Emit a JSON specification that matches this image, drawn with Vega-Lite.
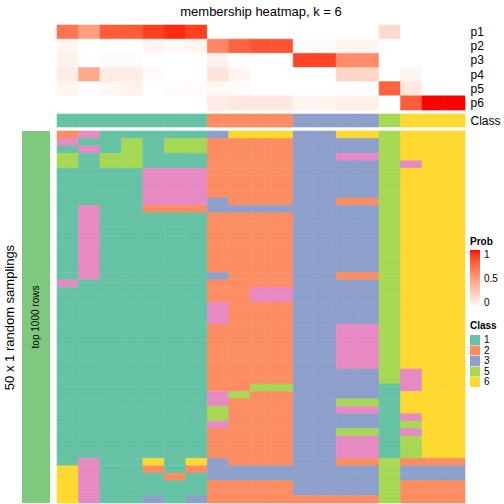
{
"$schema": "https://vega.github.io/schema/vega-lite/v6.json",
"padding": {"left": 3, "top": 5, "right": 0, "bottom": 0},
"config": {"font": "Liberation Sans", "view": {"stroke": null}, "axis": {"labelColor": "black", "titleColor": "black"}, "legend": {"labelColor": "black", "titleColor": "black"}},
"datasets": {
"side": [{"g": "top 1000 rows"}],
"cls": [{"c":0,"k":1,"lab":"Class"},{"c":1,"k":1,"lab":"Class"},{"c":2,"k":1,"lab":"Class"},{"c":3,"k":1,"lab":"Class"},{"c":4,"k":1,"lab":"Class"},{"c":5,"k":1,"lab":"Class"},{"c":6,"k":1,"lab":"Class"},{"c":7,"k":2,"lab":"Class"},{"c":8,"k":2,"lab":"Class"},{"c":9,"k":2,"lab":"Class"},{"c":10,"k":2,"lab":"Class"},{"c":11,"k":3,"lab":"Class"},{"c":12,"k":3,"lab":"Class"},{"c":13,"k":3,"lab":"Class"},{"c":14,"k":3,"lab":"Class"},{"c":15,"k":5,"lab":"Class"},{"c":16,"k":6,"lab":"Class"},{"c":17,"k":6,"lab":"Class"},{"c":18,"k":6,"lab":"Class"}],
"probs": [
{"c":0,"p":"p1","v":0.7},{"c":1,"p":"p1","v":0.5},{"c":2,"p":"p1","v":0.8},{"c":3,"p":"p1","v":0.8},{"c":4,"p":"p1","v":0.9},{"c":5,"p":"p1","v":0.95},{"c":6,"p":"p1","v":0.9},{"c":7,"p":"p1","v":0},{"c":8,"p":"p1","v":0},{"c":9,"p":"p1","v":0},{"c":10,"p":"p1","v":0},{"c":11,"p":"p1","v":0},{"c":12,"p":"p1","v":0},{"c":13,"p":"p1","v":0},{"c":14,"p":"p1","v":0},{"c":15,"p":"p1","v":0.2},{"c":16,"p":"p1","v":0},{"c":17,"p":"p1","v":0},{"c":18,"p":"p1","v":0},
{"c":0,"p":"p2","v":0.05},{"c":1,"p":"p2","v":0},{"c":2,"p":"p2","v":0},{"c":3,"p":"p2","v":0},{"c":4,"p":"p2","v":0.05},{"c":5,"p":"p2","v":0.02},{"c":6,"p":"p2","v":0.05},{"c":7,"p":"p2","v":0.62},{"c":8,"p":"p2","v":0.78},{"c":9,"p":"p2","v":0.83},{"c":10,"p":"p2","v":0.83},{"c":11,"p":"p2","v":0.02},{"c":12,"p":"p2","v":0.02},{"c":13,"p":"p2","v":0.05},{"c":14,"p":"p2","v":0.05},{"c":15,"p":"p2","v":0},{"c":16,"p":"p2","v":0},{"c":17,"p":"p2","v":0},{"c":18,"p":"p2","v":0},
{"c":0,"p":"p3","v":0.07},{"c":1,"p":"p3","v":0},{"c":2,"p":"p3","v":0.02},{"c":3,"p":"p3","v":0.02},{"c":4,"p":"p3","v":0},{"c":5,"p":"p3","v":0},{"c":6,"p":"p3","v":0},{"c":7,"p":"p3","v":0.07},{"c":8,"p":"p3","v":0},{"c":9,"p":"p3","v":0},{"c":10,"p":"p3","v":0},{"c":11,"p":"p3","v":0.88},{"c":12,"p":"p3","v":0.88},{"c":13,"p":"p3","v":0.6},{"c":14,"p":"p3","v":0.6},{"c":15,"p":"p3","v":0},{"c":16,"p":"p3","v":0},{"c":17,"p":"p3","v":0},{"c":18,"p":"p3","v":0},
{"c":0,"p":"p4","v":0.1},{"c":1,"p":"p4","v":0.45},{"c":2,"p":"p4","v":0.1},{"c":3,"p":"p4","v":0.1},{"c":4,"p":"p4","v":0.02},{"c":5,"p":"p4","v":0},{"c":6,"p":"p4","v":0},{"c":7,"p":"p4","v":0.15},{"c":8,"p":"p4","v":0.05},{"c":9,"p":"p4","v":0},{"c":10,"p":"p4","v":0},{"c":11,"p":"p4","v":0},{"c":12,"p":"p4","v":0},{"c":13,"p":"p4","v":0.22},{"c":14,"p":"p4","v":0.22},{"c":15,"p":"p4","v":0},{"c":16,"p":"p4","v":0.05},{"c":17,"p":"p4","v":0},{"c":18,"p":"p4","v":0},
{"c":0,"p":"p5","v":0.05},{"c":1,"p":"p5","v":0},{"c":2,"p":"p5","v":0.04},{"c":3,"p":"p5","v":0.07},{"c":4,"p":"p5","v":0},{"c":5,"p":"p5","v":0.02},{"c":6,"p":"p5","v":0.02},{"c":7,"p":"p5","v":0.04},{"c":8,"p":"p5","v":0.02},{"c":9,"p":"p5","v":0},{"c":10,"p":"p5","v":0},{"c":11,"p":"p5","v":0},{"c":12,"p":"p5","v":0},{"c":13,"p":"p5","v":0},{"c":14,"p":"p5","v":0},{"c":15,"p":"p5","v":0.78},{"c":16,"p":"p5","v":0.12},{"c":17,"p":"p5","v":0},{"c":18,"p":"p5","v":0},
{"c":0,"p":"p6","v":0},{"c":1,"p":"p6","v":0},{"c":2,"p":"p6","v":0},{"c":3,"p":"p6","v":0},{"c":4,"p":"p6","v":0},{"c":5,"p":"p6","v":0},{"c":6,"p":"p6","v":0},{"c":7,"p":"p6","v":0.1},{"c":8,"p":"p6","v":0.12},{"c":9,"p":"p6","v":0.12},{"c":10,"p":"p6","v":0.12},{"c":11,"p":"p6","v":0.05},{"c":12,"p":"p6","v":0.05},{"c":13,"p":"p6","v":0.08},{"c":14,"p":"p6","v":0.08},{"c":15,"p":"p6","v":0},{"c":16,"p":"p6","v":0.8},{"c":17,"p":"p6","v":1},{"c":18,"p":"p6","v":1}
],
"hm": [
{"r":0,"c":0,"k":2},{"r":0,"c":1,"k":4},{"r":0,"c":2,"k":1},{"r":0,"c":3,"k":1},{"r":0,"c":4,"k":1},{"r":0,"c":5,"k":1},{"r":0,"c":6,"k":1},{"r":0,"c":7,"k":3},{"r":0,"c":8,"k":6},{"r":0,"c":9,"k":6},{"r":0,"c":10,"k":6},{"r":0,"c":11,"k":3},{"r":0,"c":12,"k":3},{"r":0,"c":13,"k":6},{"r":0,"c":14,"k":6},{"r":0,"c":15,"k":5},{"r":0,"c":16,"k":6},{"r":0,"c":17,"k":6},{"r":0,"c":18,"k":6},
{"r":1,"c":0,"k":4},{"r":1,"c":1,"k":1},{"r":1,"c":2,"k":1},{"r":1,"c":3,"k":5},{"r":1,"c":4,"k":1},{"r":1,"c":5,"k":5},{"r":1,"c":6,"k":5},{"r":1,"c":7,"k":2},{"r":1,"c":8,"k":2},{"r":1,"c":9,"k":2},{"r":1,"c":10,"k":2},{"r":1,"c":11,"k":3},{"r":1,"c":12,"k":3},{"r":1,"c":13,"k":3},{"r":1,"c":14,"k":3},{"r":1,"c":15,"k":5},{"r":1,"c":16,"k":6},{"r":1,"c":17,"k":6},{"r":1,"c":18,"k":6},
{"r":2,"c":0,"k":1},{"r":2,"c":1,"k":4},{"r":2,"c":2,"k":1},{"r":2,"c":3,"k":5},{"r":2,"c":4,"k":1},{"r":2,"c":5,"k":5},{"r":2,"c":6,"k":5},{"r":2,"c":7,"k":2},{"r":2,"c":8,"k":2},{"r":2,"c":9,"k":2},{"r":2,"c":10,"k":2},{"r":2,"c":11,"k":3},{"r":2,"c":12,"k":3},{"r":2,"c":13,"k":3},{"r":2,"c":14,"k":3},{"r":2,"c":15,"k":5},{"r":2,"c":16,"k":6},{"r":2,"c":17,"k":6},{"r":2,"c":18,"k":6},
{"r":3,"c":0,"k":5},{"r":3,"c":1,"k":1},{"r":3,"c":2,"k":5},{"r":3,"c":3,"k":5},{"r":3,"c":4,"k":1},{"r":3,"c":5,"k":1},{"r":3,"c":6,"k":1},{"r":3,"c":7,"k":2},{"r":3,"c":8,"k":2},{"r":3,"c":9,"k":2},{"r":3,"c":10,"k":2},{"r":3,"c":11,"k":3},{"r":3,"c":12,"k":3},{"r":3,"c":13,"k":4},{"r":3,"c":14,"k":4},{"r":3,"c":15,"k":5},{"r":3,"c":16,"k":6},{"r":3,"c":17,"k":6},{"r":3,"c":18,"k":6},
{"r":4,"c":0,"k":5},{"r":4,"c":1,"k":1},{"r":4,"c":2,"k":5},{"r":4,"c":3,"k":5},{"r":4,"c":4,"k":1},{"r":4,"c":5,"k":1},{"r":4,"c":6,"k":1},{"r":4,"c":7,"k":2},{"r":4,"c":8,"k":2},{"r":4,"c":9,"k":2},{"r":4,"c":10,"k":2},{"r":4,"c":11,"k":3},{"r":4,"c":12,"k":3},{"r":4,"c":13,"k":3},{"r":4,"c":14,"k":3},{"r":4,"c":15,"k":5},{"r":4,"c":16,"k":4},{"r":4,"c":17,"k":6},{"r":4,"c":18,"k":6},
{"r":5,"c":0,"k":1},{"r":5,"c":1,"k":1},{"r":5,"c":2,"k":1},{"r":5,"c":3,"k":1},{"r":5,"c":4,"k":4},{"r":5,"c":5,"k":4},{"r":5,"c":6,"k":4},{"r":5,"c":7,"k":2},{"r":5,"c":8,"k":2},{"r":5,"c":9,"k":2},{"r":5,"c":10,"k":2},{"r":5,"c":11,"k":3},{"r":5,"c":12,"k":3},{"r":5,"c":13,"k":3},{"r":5,"c":14,"k":3},{"r":5,"c":15,"k":5},{"r":5,"c":16,"k":6},{"r":5,"c":17,"k":6},{"r":5,"c":18,"k":6},
{"r":6,"c":0,"k":1},{"r":6,"c":1,"k":1},{"r":6,"c":2,"k":1},{"r":6,"c":3,"k":1},{"r":6,"c":4,"k":4},{"r":6,"c":5,"k":4},{"r":6,"c":6,"k":4},{"r":6,"c":7,"k":2},{"r":6,"c":8,"k":2},{"r":6,"c":9,"k":2},{"r":6,"c":10,"k":2},{"r":6,"c":11,"k":3},{"r":6,"c":12,"k":3},{"r":6,"c":13,"k":3},{"r":6,"c":14,"k":3},{"r":6,"c":15,"k":5},{"r":6,"c":16,"k":6},{"r":6,"c":17,"k":6},{"r":6,"c":18,"k":6},
{"r":7,"c":0,"k":1},{"r":7,"c":1,"k":1},{"r":7,"c":2,"k":1},{"r":7,"c":3,"k":1},{"r":7,"c":4,"k":4},{"r":7,"c":5,"k":4},{"r":7,"c":6,"k":4},{"r":7,"c":7,"k":2},{"r":7,"c":8,"k":2},{"r":7,"c":9,"k":2},{"r":7,"c":10,"k":2},{"r":7,"c":11,"k":3},{"r":7,"c":12,"k":3},{"r":7,"c":13,"k":3},{"r":7,"c":14,"k":3},{"r":7,"c":15,"k":5},{"r":7,"c":16,"k":6},{"r":7,"c":17,"k":6},{"r":7,"c":18,"k":6},
{"r":8,"c":0,"k":1},{"r":8,"c":1,"k":1},{"r":8,"c":2,"k":1},{"r":8,"c":3,"k":1},{"r":8,"c":4,"k":4},{"r":8,"c":5,"k":4},{"r":8,"c":6,"k":4},{"r":8,"c":7,"k":2},{"r":8,"c":8,"k":2},{"r":8,"c":9,"k":2},{"r":8,"c":10,"k":2},{"r":8,"c":11,"k":3},{"r":8,"c":12,"k":3},{"r":8,"c":13,"k":3},{"r":8,"c":14,"k":3},{"r":8,"c":15,"k":5},{"r":8,"c":16,"k":6},{"r":8,"c":17,"k":6},{"r":8,"c":18,"k":6},
{"r":9,"c":0,"k":1},{"r":9,"c":1,"k":1},{"r":9,"c":2,"k":1},{"r":9,"c":3,"k":1},{"r":9,"c":4,"k":4},{"r":9,"c":5,"k":4},{"r":9,"c":6,"k":4},{"r":9,"c":7,"k":3},{"r":9,"c":8,"k":2},{"r":9,"c":9,"k":2},{"r":9,"c":10,"k":2},{"r":9,"c":11,"k":3},{"r":9,"c":12,"k":3},{"r":9,"c":13,"k":2},{"r":9,"c":14,"k":2},{"r":9,"c":15,"k":5},{"r":9,"c":16,"k":6},{"r":9,"c":17,"k":6},{"r":9,"c":18,"k":6},
{"r":10,"c":0,"k":1},{"r":10,"c":1,"k":4},{"r":10,"c":2,"k":1},{"r":10,"c":3,"k":1},{"r":10,"c":4,"k":2},{"r":10,"c":5,"k":2},{"r":10,"c":6,"k":2},{"r":10,"c":7,"k":3},{"r":10,"c":8,"k":3},{"r":10,"c":9,"k":3},{"r":10,"c":10,"k":3},{"r":10,"c":11,"k":3},{"r":10,"c":12,"k":3},{"r":10,"c":13,"k":3},{"r":10,"c":14,"k":3},{"r":10,"c":15,"k":5},{"r":10,"c":16,"k":6},{"r":10,"c":17,"k":6},{"r":10,"c":18,"k":6},
{"r":11,"c":0,"k":1},{"r":11,"c":1,"k":4},{"r":11,"c":2,"k":1},{"r":11,"c":3,"k":1},{"r":11,"c":4,"k":1},{"r":11,"c":5,"k":1},{"r":11,"c":6,"k":1},{"r":11,"c":7,"k":2},{"r":11,"c":8,"k":2},{"r":11,"c":9,"k":2},{"r":11,"c":10,"k":2},{"r":11,"c":11,"k":3},{"r":11,"c":12,"k":3},{"r":11,"c":13,"k":3},{"r":11,"c":14,"k":3},{"r":11,"c":15,"k":5},{"r":11,"c":16,"k":6},{"r":11,"c":17,"k":6},{"r":11,"c":18,"k":6},
{"r":12,"c":0,"k":1},{"r":12,"c":1,"k":4},{"r":12,"c":2,"k":1},{"r":12,"c":3,"k":1},{"r":12,"c":4,"k":1},{"r":12,"c":5,"k":1},{"r":12,"c":6,"k":1},{"r":12,"c":7,"k":2},{"r":12,"c":8,"k":2},{"r":12,"c":9,"k":2},{"r":12,"c":10,"k":2},{"r":12,"c":11,"k":3},{"r":12,"c":12,"k":3},{"r":12,"c":13,"k":3},{"r":12,"c":14,"k":3},{"r":12,"c":15,"k":5},{"r":12,"c":16,"k":6},{"r":12,"c":17,"k":6},{"r":12,"c":18,"k":6},
{"r":13,"c":0,"k":1},{"r":13,"c":1,"k":4},{"r":13,"c":2,"k":1},{"r":13,"c":3,"k":1},{"r":13,"c":4,"k":1},{"r":13,"c":5,"k":1},{"r":13,"c":6,"k":1},{"r":13,"c":7,"k":2},{"r":13,"c":8,"k":2},{"r":13,"c":9,"k":2},{"r":13,"c":10,"k":2},{"r":13,"c":11,"k":3},{"r":13,"c":12,"k":3},{"r":13,"c":13,"k":3},{"r":13,"c":14,"k":3},{"r":13,"c":15,"k":5},{"r":13,"c":16,"k":6},{"r":13,"c":17,"k":6},{"r":13,"c":18,"k":6},
{"r":14,"c":0,"k":1},{"r":14,"c":1,"k":4},{"r":14,"c":2,"k":1},{"r":14,"c":3,"k":1},{"r":14,"c":4,"k":1},{"r":14,"c":5,"k":1},{"r":14,"c":6,"k":1},{"r":14,"c":7,"k":2},{"r":14,"c":8,"k":2},{"r":14,"c":9,"k":2},{"r":14,"c":10,"k":2},{"r":14,"c":11,"k":3},{"r":14,"c":12,"k":3},{"r":14,"c":13,"k":3},{"r":14,"c":14,"k":3},{"r":14,"c":15,"k":5},{"r":14,"c":16,"k":6},{"r":14,"c":17,"k":6},{"r":14,"c":18,"k":6},
{"r":15,"c":0,"k":1},{"r":15,"c":1,"k":4},{"r":15,"c":2,"k":1},{"r":15,"c":3,"k":1},{"r":15,"c":4,"k":1},{"r":15,"c":5,"k":1},{"r":15,"c":6,"k":1},{"r":15,"c":7,"k":2},{"r":15,"c":8,"k":2},{"r":15,"c":9,"k":2},{"r":15,"c":10,"k":2},{"r":15,"c":11,"k":3},{"r":15,"c":12,"k":3},{"r":15,"c":13,"k":3},{"r":15,"c":14,"k":3},{"r":15,"c":15,"k":5},{"r":15,"c":16,"k":6},{"r":15,"c":17,"k":6},{"r":15,"c":18,"k":6},
{"r":16,"c":0,"k":1},{"r":16,"c":1,"k":4},{"r":16,"c":2,"k":1},{"r":16,"c":3,"k":1},{"r":16,"c":4,"k":1},{"r":16,"c":5,"k":1},{"r":16,"c":6,"k":1},{"r":16,"c":7,"k":2},{"r":16,"c":8,"k":2},{"r":16,"c":9,"k":2},{"r":16,"c":10,"k":2},{"r":16,"c":11,"k":3},{"r":16,"c":12,"k":3},{"r":16,"c":13,"k":3},{"r":16,"c":14,"k":3},{"r":16,"c":15,"k":5},{"r":16,"c":16,"k":6},{"r":16,"c":17,"k":6},{"r":16,"c":18,"k":6},
{"r":17,"c":0,"k":1},{"r":17,"c":1,"k":4},{"r":17,"c":2,"k":1},{"r":17,"c":3,"k":1},{"r":17,"c":4,"k":1},{"r":17,"c":5,"k":1},{"r":17,"c":6,"k":1},{"r":17,"c":7,"k":2},{"r":17,"c":8,"k":2},{"r":17,"c":9,"k":2},{"r":17,"c":10,"k":2},{"r":17,"c":11,"k":3},{"r":17,"c":12,"k":3},{"r":17,"c":13,"k":3},{"r":17,"c":14,"k":3},{"r":17,"c":15,"k":5},{"r":17,"c":16,"k":6},{"r":17,"c":17,"k":6},{"r":17,"c":18,"k":6},
{"r":18,"c":0,"k":1},{"r":18,"c":1,"k":4},{"r":18,"c":2,"k":1},{"r":18,"c":3,"k":1},{"r":18,"c":4,"k":1},{"r":18,"c":5,"k":1},{"r":18,"c":6,"k":1},{"r":18,"c":7,"k":2},{"r":18,"c":8,"k":2},{"r":18,"c":9,"k":2},{"r":18,"c":10,"k":2},{"r":18,"c":11,"k":3},{"r":18,"c":12,"k":3},{"r":18,"c":13,"k":3},{"r":18,"c":14,"k":3},{"r":18,"c":15,"k":5},{"r":18,"c":16,"k":6},{"r":18,"c":17,"k":6},{"r":18,"c":18,"k":6},
{"r":19,"c":0,"k":1},{"r":19,"c":1,"k":4},{"r":19,"c":2,"k":1},{"r":19,"c":3,"k":1},{"r":19,"c":4,"k":1},{"r":19,"c":5,"k":1},{"r":19,"c":6,"k":1},{"r":19,"c":7,"k":3},{"r":19,"c":8,"k":2},{"r":19,"c":9,"k":2},{"r":19,"c":10,"k":2},{"r":19,"c":11,"k":3},{"r":19,"c":12,"k":3},{"r":19,"c":13,"k":2},{"r":19,"c":14,"k":2},{"r":19,"c":15,"k":5},{"r":19,"c":16,"k":6},{"r":19,"c":17,"k":6},{"r":19,"c":18,"k":6},
{"r":20,"c":0,"k":4},{"r":20,"c":1,"k":1},{"r":20,"c":2,"k":1},{"r":20,"c":3,"k":1},{"r":20,"c":4,"k":1},{"r":20,"c":5,"k":1},{"r":20,"c":6,"k":1},{"r":20,"c":7,"k":2},{"r":20,"c":8,"k":2},{"r":20,"c":9,"k":2},{"r":20,"c":10,"k":2},{"r":20,"c":11,"k":3},{"r":20,"c":12,"k":3},{"r":20,"c":13,"k":3},{"r":20,"c":14,"k":3},{"r":20,"c":15,"k":5},{"r":20,"c":16,"k":6},{"r":20,"c":17,"k":6},{"r":20,"c":18,"k":6},
{"r":21,"c":0,"k":1},{"r":21,"c":1,"k":1},{"r":21,"c":2,"k":1},{"r":21,"c":3,"k":1},{"r":21,"c":4,"k":1},{"r":21,"c":5,"k":1},{"r":21,"c":6,"k":1},{"r":21,"c":7,"k":2},{"r":21,"c":8,"k":2},{"r":21,"c":9,"k":4},{"r":21,"c":10,"k":4},{"r":21,"c":11,"k":3},{"r":21,"c":12,"k":3},{"r":21,"c":13,"k":3},{"r":21,"c":14,"k":3},{"r":21,"c":15,"k":5},{"r":21,"c":16,"k":6},{"r":21,"c":17,"k":6},{"r":21,"c":18,"k":6},
{"r":22,"c":0,"k":1},{"r":22,"c":1,"k":1},{"r":22,"c":2,"k":1},{"r":22,"c":3,"k":1},{"r":22,"c":4,"k":1},{"r":22,"c":5,"k":1},{"r":22,"c":6,"k":1},{"r":22,"c":7,"k":2},{"r":22,"c":8,"k":2},{"r":22,"c":9,"k":4},{"r":22,"c":10,"k":4},{"r":22,"c":11,"k":3},{"r":22,"c":12,"k":3},{"r":22,"c":13,"k":3},{"r":22,"c":14,"k":3},{"r":22,"c":15,"k":5},{"r":22,"c":16,"k":6},{"r":22,"c":17,"k":6},{"r":22,"c":18,"k":6},
{"r":23,"c":0,"k":1},{"r":23,"c":1,"k":1},{"r":23,"c":2,"k":1},{"r":23,"c":3,"k":1},{"r":23,"c":4,"k":1},{"r":23,"c":5,"k":1},{"r":23,"c":6,"k":1},{"r":23,"c":7,"k":4},{"r":23,"c":8,"k":2},{"r":23,"c":9,"k":2},{"r":23,"c":10,"k":2},{"r":23,"c":11,"k":3},{"r":23,"c":12,"k":3},{"r":23,"c":13,"k":3},{"r":23,"c":14,"k":3},{"r":23,"c":15,"k":5},{"r":23,"c":16,"k":6},{"r":23,"c":17,"k":6},{"r":23,"c":18,"k":6},
{"r":24,"c":0,"k":1},{"r":24,"c":1,"k":1},{"r":24,"c":2,"k":1},{"r":24,"c":3,"k":1},{"r":24,"c":4,"k":1},{"r":24,"c":5,"k":1},{"r":24,"c":6,"k":1},{"r":24,"c":7,"k":4},{"r":24,"c":8,"k":2},{"r":24,"c":9,"k":2},{"r":24,"c":10,"k":2},{"r":24,"c":11,"k":3},{"r":24,"c":12,"k":3},{"r":24,"c":13,"k":3},{"r":24,"c":14,"k":3},{"r":24,"c":15,"k":5},{"r":24,"c":16,"k":6},{"r":24,"c":17,"k":6},{"r":24,"c":18,"k":6},
{"r":25,"c":0,"k":1},{"r":25,"c":1,"k":1},{"r":25,"c":2,"k":1},{"r":25,"c":3,"k":1},{"r":25,"c":4,"k":1},{"r":25,"c":5,"k":1},{"r":25,"c":6,"k":1},{"r":25,"c":7,"k":4},{"r":25,"c":8,"k":2},{"r":25,"c":9,"k":2},{"r":25,"c":10,"k":2},{"r":25,"c":11,"k":3},{"r":25,"c":12,"k":3},{"r":25,"c":13,"k":3},{"r":25,"c":14,"k":3},{"r":25,"c":15,"k":5},{"r":25,"c":16,"k":6},{"r":25,"c":17,"k":6},{"r":25,"c":18,"k":6},
{"r":26,"c":0,"k":1},{"r":26,"c":1,"k":1},{"r":26,"c":2,"k":1},{"r":26,"c":3,"k":1},{"r":26,"c":4,"k":1},{"r":26,"c":5,"k":1},{"r":26,"c":6,"k":1},{"r":26,"c":7,"k":2},{"r":26,"c":8,"k":2},{"r":26,"c":9,"k":2},{"r":26,"c":10,"k":2},{"r":26,"c":11,"k":3},{"r":26,"c":12,"k":3},{"r":26,"c":13,"k":4},{"r":26,"c":14,"k":4},{"r":26,"c":15,"k":5},{"r":26,"c":16,"k":6},{"r":26,"c":17,"k":6},{"r":26,"c":18,"k":6},
{"r":27,"c":0,"k":1},{"r":27,"c":1,"k":1},{"r":27,"c":2,"k":1},{"r":27,"c":3,"k":1},{"r":27,"c":4,"k":1},{"r":27,"c":5,"k":1},{"r":27,"c":6,"k":1},{"r":27,"c":7,"k":2},{"r":27,"c":8,"k":2},{"r":27,"c":9,"k":2},{"r":27,"c":10,"k":2},{"r":27,"c":11,"k":3},{"r":27,"c":12,"k":3},{"r":27,"c":13,"k":4},{"r":27,"c":14,"k":4},{"r":27,"c":15,"k":5},{"r":27,"c":16,"k":6},{"r":27,"c":17,"k":6},{"r":27,"c":18,"k":6},
{"r":28,"c":0,"k":1},{"r":28,"c":1,"k":1},{"r":28,"c":2,"k":1},{"r":28,"c":3,"k":1},{"r":28,"c":4,"k":1},{"r":28,"c":5,"k":1},{"r":28,"c":6,"k":1},{"r":28,"c":7,"k":2},{"r":28,"c":8,"k":2},{"r":28,"c":9,"k":2},{"r":28,"c":10,"k":2},{"r":28,"c":11,"k":3},{"r":28,"c":12,"k":3},{"r":28,"c":13,"k":4},{"r":28,"c":14,"k":4},{"r":28,"c":15,"k":5},{"r":28,"c":16,"k":6},{"r":28,"c":17,"k":6},{"r":28,"c":18,"k":6},
{"r":29,"c":0,"k":1},{"r":29,"c":1,"k":1},{"r":29,"c":2,"k":1},{"r":29,"c":3,"k":1},{"r":29,"c":4,"k":1},{"r":29,"c":5,"k":1},{"r":29,"c":6,"k":1},{"r":29,"c":7,"k":2},{"r":29,"c":8,"k":2},{"r":29,"c":9,"k":2},{"r":29,"c":10,"k":2},{"r":29,"c":11,"k":3},{"r":29,"c":12,"k":3},{"r":29,"c":13,"k":4},{"r":29,"c":14,"k":4},{"r":29,"c":15,"k":5},{"r":29,"c":16,"k":6},{"r":29,"c":17,"k":6},{"r":29,"c":18,"k":6},
{"r":30,"c":0,"k":1},{"r":30,"c":1,"k":1},{"r":30,"c":2,"k":1},{"r":30,"c":3,"k":1},{"r":30,"c":4,"k":1},{"r":30,"c":5,"k":1},{"r":30,"c":6,"k":1},{"r":30,"c":7,"k":2},{"r":30,"c":8,"k":2},{"r":30,"c":9,"k":2},{"r":30,"c":10,"k":2},{"r":30,"c":11,"k":3},{"r":30,"c":12,"k":3},{"r":30,"c":13,"k":4},{"r":30,"c":14,"k":4},{"r":30,"c":15,"k":5},{"r":30,"c":16,"k":6},{"r":30,"c":17,"k":6},{"r":30,"c":18,"k":6},
{"r":31,"c":0,"k":1},{"r":31,"c":1,"k":1},{"r":31,"c":2,"k":1},{"r":31,"c":3,"k":1},{"r":31,"c":4,"k":1},{"r":31,"c":5,"k":1},{"r":31,"c":6,"k":1},{"r":31,"c":7,"k":2},{"r":31,"c":8,"k":2},{"r":31,"c":9,"k":2},{"r":31,"c":10,"k":2},{"r":31,"c":11,"k":3},{"r":31,"c":12,"k":3},{"r":31,"c":13,"k":4},{"r":31,"c":14,"k":4},{"r":31,"c":15,"k":5},{"r":31,"c":16,"k":6},{"r":31,"c":17,"k":6},{"r":31,"c":18,"k":6},
{"r":32,"c":0,"k":1},{"r":32,"c":1,"k":1},{"r":32,"c":2,"k":1},{"r":32,"c":3,"k":1},{"r":32,"c":4,"k":1},{"r":32,"c":5,"k":1},{"r":32,"c":6,"k":1},{"r":32,"c":7,"k":2},{"r":32,"c":8,"k":2},{"r":32,"c":9,"k":2},{"r":32,"c":10,"k":2},{"r":32,"c":11,"k":3},{"r":32,"c":12,"k":3},{"r":32,"c":13,"k":3},{"r":32,"c":14,"k":3},{"r":32,"c":15,"k":5},{"r":32,"c":16,"k":4},{"r":32,"c":17,"k":6},{"r":32,"c":18,"k":6},
{"r":33,"c":0,"k":1},{"r":33,"c":1,"k":1},{"r":33,"c":2,"k":1},{"r":33,"c":3,"k":1},{"r":33,"c":4,"k":1},{"r":33,"c":5,"k":1},{"r":33,"c":6,"k":1},{"r":33,"c":7,"k":2},{"r":33,"c":8,"k":2},{"r":33,"c":9,"k":2},{"r":33,"c":10,"k":2},{"r":33,"c":11,"k":3},{"r":33,"c":12,"k":3},{"r":33,"c":13,"k":3},{"r":33,"c":14,"k":3},{"r":33,"c":15,"k":5},{"r":33,"c":16,"k":4},{"r":33,"c":17,"k":6},{"r":33,"c":18,"k":6},
{"r":34,"c":0,"k":1},{"r":34,"c":1,"k":1},{"r":34,"c":2,"k":1},{"r":34,"c":3,"k":1},{"r":34,"c":4,"k":1},{"r":34,"c":5,"k":1},{"r":34,"c":6,"k":1},{"r":34,"c":7,"k":2},{"r":34,"c":8,"k":2},{"r":34,"c":9,"k":5},{"r":34,"c":10,"k":5},{"r":34,"c":11,"k":3},{"r":34,"c":12,"k":3},{"r":34,"c":13,"k":3},{"r":34,"c":14,"k":3},{"r":34,"c":15,"k":1},{"r":34,"c":16,"k":4},{"r":34,"c":17,"k":6},{"r":34,"c":18,"k":6},
{"r":35,"c":0,"k":1},{"r":35,"c":1,"k":1},{"r":35,"c":2,"k":1},{"r":35,"c":3,"k":1},{"r":35,"c":4,"k":1},{"r":35,"c":5,"k":1},{"r":35,"c":6,"k":1},{"r":35,"c":7,"k":4},{"r":35,"c":8,"k":5},{"r":35,"c":9,"k":2},{"r":35,"c":10,"k":2},{"r":35,"c":11,"k":3},{"r":35,"c":12,"k":3},{"r":35,"c":13,"k":3},{"r":35,"c":14,"k":3},{"r":35,"c":15,"k":1},{"r":35,"c":16,"k":6},{"r":35,"c":17,"k":6},{"r":35,"c":18,"k":6},
{"r":36,"c":0,"k":1},{"r":36,"c":1,"k":1},{"r":36,"c":2,"k":1},{"r":36,"c":3,"k":1},{"r":36,"c":4,"k":1},{"r":36,"c":5,"k":1},{"r":36,"c":6,"k":1},{"r":36,"c":7,"k":4},{"r":36,"c":8,"k":2},{"r":36,"c":9,"k":2},{"r":36,"c":10,"k":2},{"r":36,"c":11,"k":3},{"r":36,"c":12,"k":3},{"r":36,"c":13,"k":5},{"r":36,"c":14,"k":5},{"r":36,"c":15,"k":1},{"r":36,"c":16,"k":6},{"r":36,"c":17,"k":6},{"r":36,"c":18,"k":6},
{"r":37,"c":0,"k":1},{"r":37,"c":1,"k":1},{"r":37,"c":2,"k":1},{"r":37,"c":3,"k":1},{"r":37,"c":4,"k":1},{"r":37,"c":5,"k":1},{"r":37,"c":6,"k":1},{"r":37,"c":7,"k":5},{"r":37,"c":8,"k":2},{"r":37,"c":9,"k":2},{"r":37,"c":10,"k":2},{"r":37,"c":11,"k":3},{"r":37,"c":12,"k":3},{"r":37,"c":13,"k":4},{"r":37,"c":14,"k":4},{"r":37,"c":15,"k":1},{"r":37,"c":16,"k":6},{"r":37,"c":17,"k":6},{"r":37,"c":18,"k":6},
{"r":38,"c":0,"k":1},{"r":38,"c":1,"k":1},{"r":38,"c":2,"k":1},{"r":38,"c":3,"k":1},{"r":38,"c":4,"k":1},{"r":38,"c":5,"k":1},{"r":38,"c":6,"k":1},{"r":38,"c":7,"k":5},{"r":38,"c":8,"k":2},{"r":38,"c":9,"k":2},{"r":38,"c":10,"k":2},{"r":38,"c":11,"k":3},{"r":38,"c":12,"k":3},{"r":38,"c":13,"k":3},{"r":38,"c":14,"k":3},{"r":38,"c":15,"k":1},{"r":38,"c":16,"k":4},{"r":38,"c":17,"k":6},{"r":38,"c":18,"k":6},
{"r":39,"c":0,"k":1},{"r":39,"c":1,"k":1},{"r":39,"c":2,"k":1},{"r":39,"c":3,"k":1},{"r":39,"c":4,"k":1},{"r":39,"c":5,"k":1},{"r":39,"c":6,"k":1},{"r":39,"c":7,"k":4},{"r":39,"c":8,"k":2},{"r":39,"c":9,"k":2},{"r":39,"c":10,"k":2},{"r":39,"c":11,"k":3},{"r":39,"c":12,"k":3},{"r":39,"c":13,"k":3},{"r":39,"c":14,"k":3},{"r":39,"c":15,"k":1},{"r":39,"c":16,"k":5},{"r":39,"c":17,"k":6},{"r":39,"c":18,"k":6},
{"r":40,"c":0,"k":1},{"r":40,"c":1,"k":1},{"r":40,"c":2,"k":1},{"r":40,"c":3,"k":1},{"r":40,"c":4,"k":1},{"r":40,"c":5,"k":1},{"r":40,"c":6,"k":1},{"r":40,"c":7,"k":2},{"r":40,"c":8,"k":2},{"r":40,"c":9,"k":2},{"r":40,"c":10,"k":2},{"r":40,"c":11,"k":3},{"r":40,"c":12,"k":3},{"r":40,"c":13,"k":5},{"r":40,"c":14,"k":5},{"r":40,"c":15,"k":1},{"r":40,"c":16,"k":4},{"r":40,"c":17,"k":6},{"r":40,"c":18,"k":6},
{"r":41,"c":0,"k":1},{"r":41,"c":1,"k":1},{"r":41,"c":2,"k":1},{"r":41,"c":3,"k":1},{"r":41,"c":4,"k":1},{"r":41,"c":5,"k":1},{"r":41,"c":6,"k":1},{"r":41,"c":7,"k":2},{"r":41,"c":8,"k":2},{"r":41,"c":9,"k":2},{"r":41,"c":10,"k":2},{"r":41,"c":11,"k":3},{"r":41,"c":12,"k":3},{"r":41,"c":13,"k":4},{"r":41,"c":14,"k":4},{"r":41,"c":15,"k":1},{"r":41,"c":16,"k":5},{"r":41,"c":17,"k":6},{"r":41,"c":18,"k":6},
{"r":42,"c":0,"k":1},{"r":42,"c":1,"k":1},{"r":42,"c":2,"k":1},{"r":42,"c":3,"k":1},{"r":42,"c":4,"k":1},{"r":42,"c":5,"k":1},{"r":42,"c":6,"k":1},{"r":42,"c":7,"k":2},{"r":42,"c":8,"k":2},{"r":42,"c":9,"k":2},{"r":42,"c":10,"k":2},{"r":42,"c":11,"k":3},{"r":42,"c":12,"k":3},{"r":42,"c":13,"k":4},{"r":42,"c":14,"k":4},{"r":42,"c":15,"k":1},{"r":42,"c":16,"k":5},{"r":42,"c":17,"k":6},{"r":42,"c":18,"k":6},
{"r":43,"c":0,"k":1},{"r":43,"c":1,"k":1},{"r":43,"c":2,"k":1},{"r":43,"c":3,"k":1},{"r":43,"c":4,"k":1},{"r":43,"c":5,"k":1},{"r":43,"c":6,"k":1},{"r":43,"c":7,"k":2},{"r":43,"c":8,"k":2},{"r":43,"c":9,"k":2},{"r":43,"c":10,"k":2},{"r":43,"c":11,"k":3},{"r":43,"c":12,"k":3},{"r":43,"c":13,"k":4},{"r":43,"c":14,"k":4},{"r":43,"c":15,"k":1},{"r":43,"c":16,"k":5},{"r":43,"c":17,"k":6},{"r":43,"c":18,"k":6},
{"r":44,"c":0,"k":1},{"r":44,"c":1,"k":4},{"r":44,"c":2,"k":1},{"r":44,"c":3,"k":1},{"r":44,"c":4,"k":6},{"r":44,"c":5,"k":1},{"r":44,"c":6,"k":6},{"r":44,"c":7,"k":3},{"r":44,"c":8,"k":2},{"r":44,"c":9,"k":2},{"r":44,"c":10,"k":2},{"r":44,"c":11,"k":3},{"r":44,"c":12,"k":3},{"r":44,"c":13,"k":2},{"r":44,"c":14,"k":2},{"r":44,"c":15,"k":5},{"r":44,"c":16,"k":2},{"r":44,"c":17,"k":2},{"r":44,"c":18,"k":2},
{"r":45,"c":0,"k":6},{"r":45,"c":1,"k":4},{"r":45,"c":2,"k":1},{"r":45,"c":3,"k":1},{"r":45,"c":4,"k":2},{"r":45,"c":5,"k":1},{"r":45,"c":6,"k":2},{"r":45,"c":7,"k":3},{"r":45,"c":8,"k":3},{"r":45,"c":9,"k":3},{"r":45,"c":10,"k":3},{"r":45,"c":11,"k":3},{"r":45,"c":12,"k":3},{"r":45,"c":13,"k":3},{"r":45,"c":14,"k":3},{"r":45,"c":15,"k":5},{"r":45,"c":16,"k":3},{"r":45,"c":17,"k":3},{"r":45,"c":18,"k":3},
{"r":46,"c":0,"k":6},{"r":46,"c":1,"k":4},{"r":46,"c":2,"k":1},{"r":46,"c":3,"k":1},{"r":46,"c":4,"k":1},{"r":46,"c":5,"k":2},{"r":46,"c":6,"k":1},{"r":46,"c":7,"k":3},{"r":46,"c":8,"k":3},{"r":46,"c":9,"k":3},{"r":46,"c":10,"k":3},{"r":46,"c":11,"k":3},{"r":46,"c":12,"k":3},{"r":46,"c":13,"k":3},{"r":46,"c":14,"k":3},{"r":46,"c":15,"k":5},{"r":46,"c":16,"k":3},{"r":46,"c":17,"k":3},{"r":46,"c":18,"k":3},
{"r":47,"c":0,"k":6},{"r":47,"c":1,"k":4},{"r":47,"c":2,"k":1},{"r":47,"c":3,"k":1},{"r":47,"c":4,"k":1},{"r":47,"c":5,"k":1},{"r":47,"c":6,"k":1},{"r":47,"c":7,"k":2},{"r":47,"c":8,"k":2},{"r":47,"c":9,"k":2},{"r":47,"c":10,"k":2},{"r":47,"c":11,"k":3},{"r":47,"c":12,"k":3},{"r":47,"c":13,"k":3},{"r":47,"c":14,"k":3},{"r":47,"c":15,"k":5},{"r":47,"c":16,"k":2},{"r":47,"c":17,"k":2},{"r":47,"c":18,"k":2},
{"r":48,"c":0,"k":6},{"r":48,"c":1,"k":4},{"r":48,"c":2,"k":1},{"r":48,"c":3,"k":1},{"r":48,"c":4,"k":1},{"r":48,"c":5,"k":1},{"r":48,"c":6,"k":1},{"r":48,"c":7,"k":2},{"r":48,"c":8,"k":2},{"r":48,"c":9,"k":2},{"r":48,"c":10,"k":2},{"r":48,"c":11,"k":3},{"r":48,"c":12,"k":3},{"r":48,"c":13,"k":3},{"r":48,"c":14,"k":3},{"r":48,"c":15,"k":5},{"r":48,"c":16,"k":2},{"r":48,"c":17,"k":2},{"r":48,"c":18,"k":2},
{"r":49,"c":0,"k":6},{"r":49,"c":1,"k":4},{"r":49,"c":2,"k":1},{"r":49,"c":3,"k":1},{"r":49,"c":4,"k":3},{"r":49,"c":5,"k":1},{"r":49,"c":6,"k":3},{"r":49,"c":7,"k":2},{"r":49,"c":8,"k":2},{"r":49,"c":9,"k":2},{"r":49,"c":10,"k":2},{"r":49,"c":11,"k":2},{"r":49,"c":12,"k":2},{"r":49,"c":13,"k":2},{"r":49,"c":14,"k":2},{"r":49,"c":15,"k":5},{"r":49,"c":16,"k":2},{"r":49,"c":17,"k":2},{"r":49,"c":18,"k":2}
]
},
"columns": 2,
"align": "each",
"spacing": {"row": 2, "column": 6},
"resolve": {"scale": {"color": "independent", "stroke": "independent"}, "legend": {"color": "independent"}},
"concat": [
{"width": 20, "height": 10, "data": {"name": "side"}, "mark": {"type": "rect", "opacity": 0}, "encoding": {}},
{"width": 408, "height": 85, "data": {"name": "probs"},
 "title": {"text": "membership heatmap, k = 6", "anchor": "middle", "frame": "group", "fontSize": 13, "fontWeight": "normal", "offset": 6, "color": "black"},
 "mark": {"type": "rect", "strokeWidth": 0.6},
 "encoding": {
  "x": {"field": "c", "type": "ordinal", "axis": null, "scale": {"paddingInner": 0, "paddingOuter": 0}},
  "y": {"field": "p", "type": "nominal", "title": null, "scale": {"paddingInner": 0, "paddingOuter": 0},
        "axis": {"orient": "right", "ticks": false, "tickSize": 0, "domain": false, "labelPadding": 5, "labelFontSize": 12, "labelColor": "black"}},
  "color": {"field": "v", "type": "quantitative", "scale": {"domain": [0, 1], "range": ["#ffffff", "#ff0000"], "interpolate": "lab"}, "legend": null},
  "stroke": {"field": "v", "type": "quantitative", "scale": {"domain": [0, 1], "range": ["#ffffff", "#ff0000"], "interpolate": "lab"}, "legend": null}
 }},
{"width": 20, "height": 10, "data": {"name": "side"}, "mark": {"type": "rect", "opacity": 0}, "encoding": {}},
{"width": 408, "height": 13, "data": {"name": "cls"},
 "mark": {"type": "rect", "strokeWidth": 0.6},
 "encoding": {
  "x": {"field": "c", "type": "ordinal", "axis": null, "scale": {"paddingInner": 0, "paddingOuter": 0}},
  "y": {"field": "lab", "type": "nominal", "title": null, "scale": {"paddingInner": 0, "paddingOuter": 0},
        "axis": {"orient": "right", "ticks": false, "tickSize": 0, "domain": false, "labelPadding": 5, "labelFontSize": 12, "labelColor": "black"}},
  "color": {"field": "k", "type": "nominal", "scale": {"domain": [1, 2, 3, 4, 5, 6], "range": ["#66C2A5", "#FC8D62", "#8DA0CB", "#E78AC3", "#A6D854", "#FFD92F"]}, "legend": null},
  "stroke": {"field": "k", "type": "nominal", "scale": {"domain": [1, 2, 3, 4, 5, 6], "range": ["#66C2A5", "#FC8D62", "#8DA0CB", "#E78AC3", "#A6D854", "#FFD92F"]}, "legend": null}
 }},
{"width": 28, "height": 372, "data": {"name": "side"},
 "layer": [
  {"mark": {"type": "rect", "color": "#7FC97F"},
   "encoding": {"y": {"field": "g", "type": "nominal", "scale": {"paddingInner": 0, "paddingOuter": 0},
     "axis": {"title": "50 x 1 random samplings", "labels": false, "ticks": false, "domain": false, "minExtent": 0, "titlePadding": 6, "titleFontSize": 13, "titleFontWeight": "normal", "titleColor": "black"}}}},
  {"mark": {"type": "text", "angle": 270, "fontSize": 10, "color": "black", "align": "center", "baseline": "middle"},
   "encoding": {"y": {"field": "g", "type": "nominal"}, "text": {"field": "g"}}}
 ]},
{"width": 408, "height": 372,
 "layer": [
  {"data": {"name": "hm"}, "mark": {"type": "rect", "strokeWidth": 0.6},
   "encoding": {
    "x": {"field": "c", "type": "ordinal", "axis": null, "scale": {"paddingInner": 0, "paddingOuter": 0}},
    "y": {"field": "r", "type": "ordinal", "axis": null, "scale": {"paddingInner": 0, "paddingOuter": 0}},
    "color": {"field": "k", "type": "nominal", "scale": {"domain": [1, 2, 3, 4, 5, 6], "range": ["#66C2A5", "#FC8D62", "#8DA0CB", "#E78AC3", "#A6D854", "#FFD92F"]},
      "legend": {"title": "Class", "orient": "none", "legendX": 413, "legendY": 190, "values": [1, 2, 3, 5, 6], "symbolType": "square", "symbolSize": 100, "symbolStrokeWidth": 0, "labelFontSize": 10, "titleFontSize": 10, "titleFontWeight": "bold", "rowPadding": 0.5, "titlePadding": 4, "labelOffset": 4, "padding": 0}},
    "stroke": {"field": "k", "type": "nominal", "scale": {"domain": [1, 2, 3, 4, 5, 6], "range": ["#66C2A5", "#FC8D62", "#8DA0CB", "#E78AC3", "#A6D854", "#FFD92F"]}, "legend": null}
   }},
  {"data": {"name": "probs"}, "mark": {"type": "rect", "opacity": 0},
   "encoding": {
    "color": {"field": "v", "type": "quantitative", "scale": {"domain": [0, 1], "range": ["#ffffff", "#ff0000"], "interpolate": "lab"},
      "legend": {"title": "Prob", "orient": "none", "legendX": 413, "legendY": 106, "direction": "vertical", "gradientLength": 58, "gradientThickness": 10, "values": [0, 0.5, 1], "format": "~g", "labelFontSize": 10, "titleFontSize": 10, "titleFontWeight": "bold", "titlePadding": 3, "labelOverlap": false, "gradientStrokeWidth": 0, "labelOffset": 4, "padding": 0}}
   }}
 ],
 "resolve": {"scale": {"color": "independent"}}}
]
}
